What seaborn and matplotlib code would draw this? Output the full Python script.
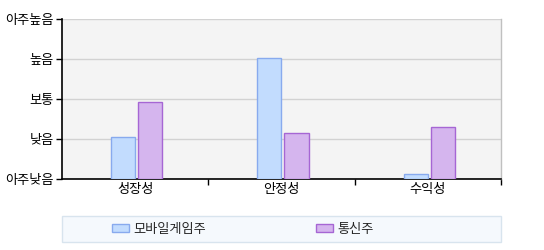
import matplotlib
matplotlib.use("Agg")
import matplotlib.pyplot as plt
import seaborn as sns
import pandas as pd
from matplotlib.patches import Rectangle, Patch
from matplotlib.ticker import FixedLocator

categories = ["성장성", "안정성", "수익성"]
series_names = ["모바일게임주", "통신주"]
mobile_game = [1.06, 3.02, 0.12]
telecom = [1.92, 1.14, 1.29]
level_labels = ["아주낮음", "낮음", "보통", "높음", "아주높음"]

fill_colors = ["#c2dcfe", "#d5b5ee"]
edge_colors = ["#88aaee", "#a666d4"]

sns.set_theme(style="white")
plt.rcParams["font.family"] = ["Noto Sans CJK KR", "DejaVu Sans"]

df = pd.DataFrame({
    "category": categories * 2,
    "series": [series_names[0]] * 3 + [series_names[1]] * 3,
    "value": mobile_game + telecom,
})

FS = 9.5
W, H = 544, 250
fig = plt.figure(figsize=(W / 100, H / 100), dpi=100)
ax = fig.add_axes([62 / W, (H - 179) / H, (501 - 62) / W, (179 - 19) / H])
ax.set_facecolor("#f4f4f4")

sns.barplot(data=df, x="category", y="value", hue="series", palette=fill_colors,
            width=0.37, gap=0.11, saturation=1, legend=False, ax=ax, zorder=3)

for cont, ec in zip(ax.containers, edge_colors):
    for p in cont:
        p.set_edgecolor(ec)
        p.set_linewidth(1)
        p.set_x(p.get_x() + 0.01)

ax.set_ylim(0, 4)
ax.set_xlim(-0.5, 2.5)
ax.set_yticks(range(5))
ax.set_yticklabels(level_labels, fontsize=FS, color="black")
ax.yaxis.grid(True, color="#d2d2d2", linewidth=1, zorder=0)
ax.set_axisbelow(True)
ax.set_xlabel("")
ax.set_ylabel("")
ax.tick_params(axis="x", which="major", length=0, labelsize=FS, labelcolor="black", pad=3)
ax.xaxis.set_minor_locator(FixedLocator([0.5, 1.5, 2.5]))
ax.tick_params(axis="x", which="minor", length=4, width=1, color="black", direction="out", bottom=True)
ax.tick_params(axis="y", length=4, width=1, color="black", direction="out", left=True, pad=2)

for s in ["left", "bottom"]:
    ax.spines[s].set_color("black")
    ax.spines[s].set_linewidth(1.2)
ax.spines["top"].set_visible(False)
ax.spines["right"].set_color("#c0c0c0")
ax.spines["right"].set_linewidth(1)

# legend box
fig.patches.append(Rectangle((62 / W, (H - 242) / H), (501 - 62) / W, 26 / H,
                             transform=fig.transFigure, facecolor="#f5f9fd",
                             edgecolor="#d8e4ee", linewidth=1, zorder=0))
handles = [Patch(facecolor=f, edgecolor=e, linewidth=1, label=n)
           for f, e, n in zip(fill_colors, edge_colors, series_names)]
fig.legend(handles=handles, loc="center left", bbox_to_anchor=(112 / W, (H - 229) / H),
           ncol=2, frameon=False, fontsize=FS, handlelength=1.3, handleheight=0.55,
           handletextpad=0.35, columnspacing=8.3, borderpad=0, borderaxespad=0)

fig.savefig("out.png", dpi=100)
